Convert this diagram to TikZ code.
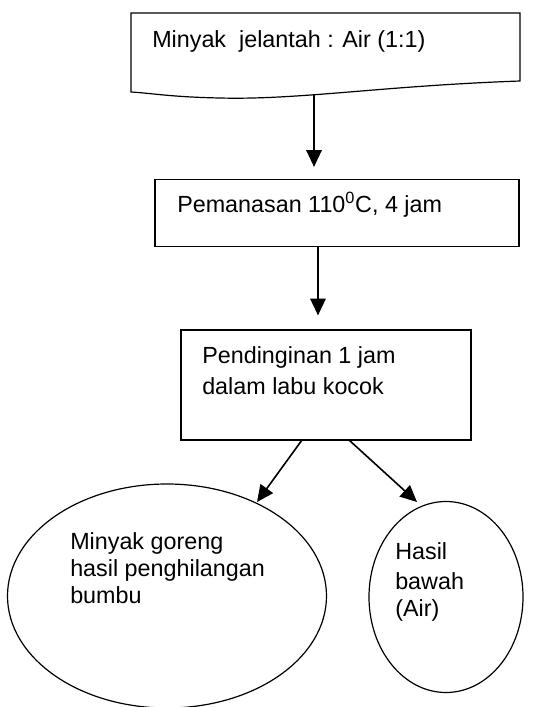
\documentclass[tikz,border=0pt]{standalone}
\usepackage{fontspec}
\setmainfont{Liberation Sans}
\usetikzlibrary{arrows.meta,positioning,shapes.geometric}

\begin{document}
\begin{tikzpicture}[x=0.75pt,y=-0.75pt,>={Triangle[length=12.5pt,width=11.5pt]},
    every node/.style={font=\fontsize{17.5}{20}\selectfont},
    prosesbox/.style={draw,line width=0.9pt,inner sep=0pt},
    hasilbox/.style={draw,ellipse,line width=0.9pt,inner sep=0pt},
    lbl/.style={anchor=base west,inner sep=0pt},
    arr/.style={->,line width=1.2pt}]
    \useasboundingbox (0,0) rectangle (543,707);
    \draw[line width=0.9pt] (131,13)--(520,13)--(520,81)
      .. controls (380,86) and (300,100) .. (220,98)
      .. controls (170,97) and (150,93) .. (131,92)--cycle;
    \node[lbl] (bahan) at (152,47) {Minyak\ \ jelantah : Air (1:1)};
    \coordinate (bahanbawah) at (314,95);
    \node[prosesbox,minimum width=273pt,minimum height=50.25pt] (panas) at (337,213) {};
    \node[lbl] (panastxt) at (177,212) {Pemanasan 110\textsuperscript{0}C, 4 jam};
    \node[prosesbox,minimum width=217.5pt,minimum height=82.5pt] (dingin) at (326,385) {};
    \node[lbl] (dingin1) at (202,363) {Pendinginan 1 jam};
    \node[lbl] (dingin2) at (202,394) {dalam labu kocok};
    \node[hasilbox,minimum width=239.25pt,minimum height=168pt] (minyak) at (167,596) {};
    \node[lbl] (minyak1) at (70,549) {Minyak goreng};
    \node[lbl] (minyak2) at (70,576) {hasil penghilangan};
    \node[lbl] (minyak3) at (70,603) {bumbu};
    \node[hasilbox,minimum width=115.5pt,minimum height=143.25pt] (air) at (446,597) {};
    \node[lbl] (air1) at (395,559) {Hasil};
    \node[lbl] (air2) at (395,589) {bawah};
    \node[lbl] (air3) at (395,616) {(Air)};
    \coordinate (kiri) at (302,440);
    \coordinate (kanan) at (349,440);
    \coordinate (ujungkiri) at (257,502);
    \coordinate (ujungkanan) at (417,502);
    \draw[arr,shorten >=9pt] (bahanbawah) -- (bahanbawah |- panas.north);
    \draw[arr,shorten >=10.5pt] ([xshift=-14.25pt]panas.south) -- ([xshift=-14.25pt]panas.south |- dingin.north);
    \draw[arr] (kiri) -- (ujungkiri);
    \draw[arr] (kanan) -- (ujungkanan);
\end{tikzpicture}
\end{document}
